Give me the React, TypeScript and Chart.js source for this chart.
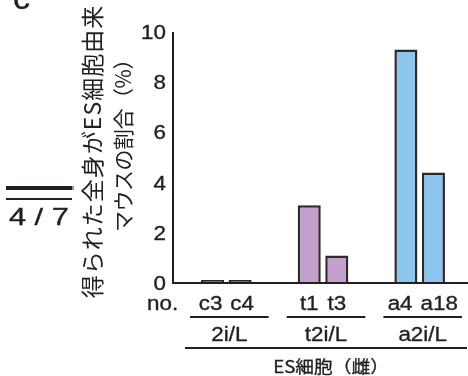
import React, { useEffect, useRef } from "react";
import { Chart, registerables } from "chart.js";

Chart.register(...registerables);

// Culture conditions (one group of two ES cell lines each)
const groups = ["2i/L", "t2i/L", "a2i/L"];
const firstLines = ["c3", "t1", "a4"];
const firstValues = [0, 3.1, 9.3];
const secondLines = ["c4", "t3", "a18"];
const secondValues = [0, 1.1, 4.4];
const groupColors = ["#454545", "#c3a0cc", "#8cc6ee"];
const yTicks = [0, 2, 4, 6, 8, 10];
const yTitleLines = ["得られた全身がES細胞由来", "マウスの割合（%）"];
const lineHeader = "no.";
const footerLabel = "ES細胞（雌）";
const pageLabel = "4 / 7";
const panelLetter = "c";

const INK = "#231f20";
const LATIN = '"Liberation Sans", Arial, sans-serif';
const CJK = '"Noto Sans CJK JP", "Noto Sans", sans-serif';
const SX = 1.12; // horizontal stretch of the printed lettering
const LABEL_FONT = `20px ${LATIN}`;

function wideText(
  ctx: CanvasRenderingContext2D,
  text: string,
  x: number,
  y: number,
  align: CanvasTextAlign,
  font: string,
  sx = SX
) {
  ctx.save();
  ctx.translate(x, y);
  ctx.scale(sx, 1);
  ctx.font = font;
  ctx.textAlign = align;
  ctx.textBaseline = "alphabetic";
  ctx.fillStyle = INK;
  ctx.strokeStyle = INK;
  ctx.lineWidth = 0.35;
  ctx.fillText(text, 0, 0);
  ctx.strokeText(text, 0, 0);
  ctx.restore();
}

function textWidth(ctx: CanvasRenderingContext2D, text: string, font: string, sx = SX) {
  ctx.save();
  ctx.font = font;
  const w = ctx.measureText(text).width * sx;
  ctx.restore();
  return w;
}

function hLine(ctx: CanvasRenderingContext2D, x1: number, x2: number, y: number, w: number, color = INK) {
  ctx.save();
  ctx.strokeStyle = color;
  ctx.lineWidth = w;
  ctx.beginPath();
  ctx.moveTo(x1, y);
  ctx.lineTo(x2, y);
  ctx.stroke();
  ctx.restore();
}

const figurePlugin = {
  id: "figureDecor",
  afterDatasetsDraw(chart: any) {
    const ctx: CanvasRenderingContext2D = chart.ctx;
    const y = chart.scales.y;
    const area = chart.chartArea;
    const base = y.getPixelForValue(0);
    const top = y.getPixelForValue(10);
    const axisX = area.left - 5;

    // axes
    ctx.save();
    ctx.strokeStyle = INK;
    ctx.lineWidth = 2;
    ctx.beginPath();
    ctx.moveTo(axisX, top);
    ctx.lineTo(axisX, base);
    ctx.lineTo(chart.width, base);
    ctx.stroke();
    ctx.restore();

    // y tick labels
    yTicks.forEach((t) => {
      wideText(ctx, String(t), axisX - 7, y.getPixelForValue(t) + 7, "right", LABEL_FONT);
    });

    // y title (two rotated lines)
    ctx.save();
    ctx.fillStyle = INK;
    ctx.textAlign = "center";
    ctx.textBaseline = "middle";
    const midY = (top + base) / 2;
    ctx.translate(92, midY);
    ctx.rotate(-Math.PI / 2);
    ctx.font = `23px ${CJK}`;
    (ctx as any).letterSpacing = "1px";
    ctx.fillText(yTitleLines[0], 6, 0);
    (ctx as any).letterSpacing = "-0.5px";
    ctx.font = `21px ${CJK}`;
    ctx.fillText(yTitleLines[1], 17, 31);
    ctx.restore();

    // line labels, group underlines and group names
    const m0 = chart.getDatasetMeta(0).data;
    const m1 = chart.getDatasetMeta(1).data;
    const labelY = base + 27;
    const minGap = 8;
    wideText(ctx, lineHeader, 147, labelY, "left", LABEL_FONT);
    groups.forEach((g, i) => {
      const b0 = m0[i];
      const b1 = m1[i];
      const w0 = textWidth(ctx, firstLines[i], LABEL_FONT);
      const w1 = textWidth(ctx, secondLines[i], LABEL_FONT);
      const gap = b1.x - w1 / 2 - (b0.x + w0 / 2);
      const push = gap < minGap ? (minGap - gap) / 2 : 0;
      wideText(ctx, firstLines[i], b0.x - push, labelY, "center", LABEL_FONT);
      wideText(ctx, secondLines[i], b1.x + push, labelY, "center", LABEL_FONT);
      const left = b0.x - b0.width / 2 - 11;
      const right = b1.x + b1.width / 2 + 17;
      hLine(ctx, left, right, base + 34, 2);
      wideText(ctx, g, (b0.x + b1.x) / 2 + 3, base + 58, "center", LABEL_FONT);
    });
    hLine(ctx, 185, 467, base + 65, 2);
    wideText(ctx, footerLabel, 331, base + 90, "center", `17px ${CJK}`, 1.1);

    // page marker and panel letter
    hLine(ctx, 6, 72, 188, 4);
    hLine(ctx, 72, 74, 188, 4, "#9a9a9a");
    hLine(ctx, 6, 72, 199, 2);
    wideText(ctx, pageLabel, 9, 225, "left", `24px ${LATIN}`, 1.28);
    wideText(ctx, panelLetter, 13, 9, "left", `31px ${LATIN}`, 1.1);
  },
};

export default function App() {
  const ref = useRef<HTMLCanvasElement | null>(null);

  useEffect(() => {
    if (!ref.current) return;
    const barStyle = {
      backgroundColor: groupColors,
      borderColor: "#2a2a2a",
      borderWidth: 2.5,
      minBarLength: 3,
      categoryPercentage: 0.57,
      barPercentage: 0.836,
    };
    const chart = new Chart(ref.current, {
      type: "bar",
      data: {
        labels: groups,
        datasets: [
          { data: firstValues, ...barStyle },
          { data: secondValues, ...barStyle },
        ],
      },
      options: {
        responsive: false,
        animation: false,
        layout: { padding: { left: 178, right: 0, top: 32, bottom: 93 } },
        scales: {
          x: { display: false },
          y: { display: false, min: 0, max: 10 },
        },
        plugins: {
          legend: { display: false },
          tooltip: { enabled: false },
        },
      },
      plugins: [figurePlugin],
    });
    return () => chart.destroy();
  }, []);

  return (
    <div style={{ position: "fixed", left: 0, top: 0, width: 468, height: 376, background: "#fff" }}>
      <canvas ref={ref} width={468} height={376} style={{ display: "block" }} />
    </div>
  );
}
